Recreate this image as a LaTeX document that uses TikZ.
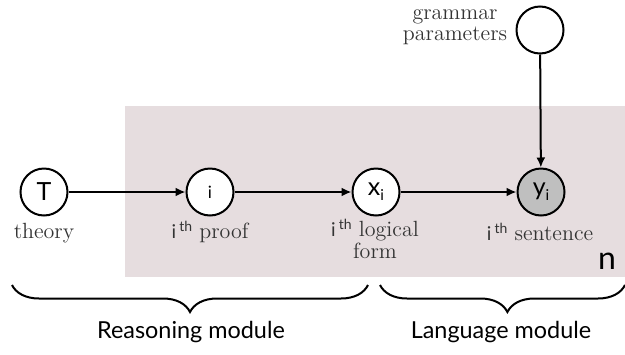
\documentclass[tikz,border=0pt]{standalone}
\usepackage{fontspec}
\setsansfont{Lato}
\usetikzlibrary{arrows.meta,decorations.pathreplacing}
\definecolor{platebg}{HTML}{E6DDDF}
\definecolor{labgray}{HTML}{333333}
\newcommand{\ith}{{\sffamily\fontsize{9.5}{10}\selectfont i\,\raisebox{3.5pt}{\fontsize{7}{8}\selectfont th}}}

\begin{document}
\begin{tikzpicture}[x=0.5pt,y=-0.5pt,
    var/.style={circle,draw,line width=1pt,minimum size=23.5pt,inner sep=0pt,fill=white,
      font=\sffamily\fontsize{12.5}{14}\selectfont},
    obs/.style={var,fill=black!25},
    lab/.style={anchor=base,inner sep=0pt,text=labgray,font=\fontsize{11}{9}\selectfont},
    edge/.style={line width=1pt,-{Latex[length=5pt,width=4.5pt]}},
    mod/.style={anchor=base,inner sep=0pt,font=\sffamily\fontsize{11.7}{13}\selectfont}]
  \useasboundingbox (0,0) rectangle (625,354);
  \fill[platebg] (125,106) rectangle (625,277);
  \node[var] (t) at (44, 192) {T};
  \node[var,font=\sffamily\fontsize{8.5}{9}\selectfont] (p) at (210, 192) {i};
  \node[var] (x) at (376, 192) {x\raisebox{-2.5pt}{\fontsize{7.5}{8}\selectfont i}};
  \node[obs] (y) at (541, 192) {y\raisebox{-2.5pt}{\fontsize{7.5}{8}\selectfont i}};
  \node[var] (g) at (540, 30) {};
  \node[lab] (lt) at (44, 238) {theory};
  \node[lab] (lp) at (210, 238) {\ith\ proof};
  \node[lab,align=center] (lx) at (375, 258) {\ith\ logical\\form};
  \node[lab] (ly) at (540, 240) {\ith\ sentence};
  \node[lab,align=center] (lg) at (455, 40) {grammar\\parameters};
  \node[anchor=base,inner sep=0pt,font=\sffamily\fontsize{16}{18}\selectfont] (n) at (607, 269) {n};
  \draw[edge] (t) -- (p);
  \draw[edge] (p) -- (x);
  \draw[edge] (x) -- (y);
  \draw[edge] (g) -- (y);
  \coordinate (b1) at (12, 285);
  \coordinate (b2) at (368, 285);
  \coordinate (b3) at (380, 285);
  \coordinate (b4) at (625, 285);
  \draw[line width=1pt,decorate,decoration={brace,mirror,amplitude=13.5pt}] (b1) -- (b2);
  \draw[line width=1pt,decorate,decoration={brace,mirror,amplitude=13.5pt,aspect=0.52}] (b3) -- (b4);
  \node[mod] (rm) at (191, 338) {Reasoning module};
  \node[mod] (lm) at (501, 338) {Language module};
\end{tikzpicture}
\end{document}
